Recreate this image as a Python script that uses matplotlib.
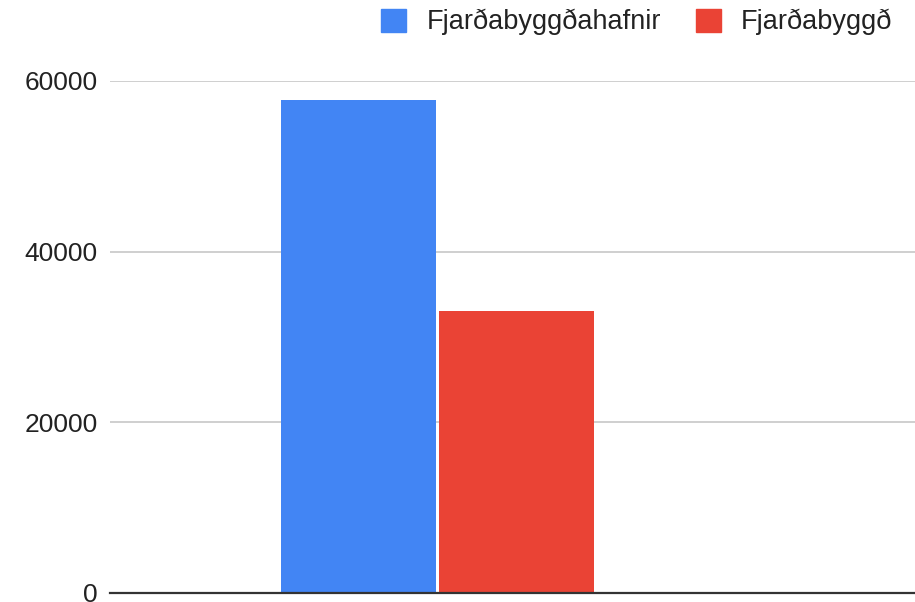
import matplotlib
matplotlib.use("Agg")
import matplotlib.pyplot as plt
import matplotlib.patches as mpatches

plt.rcParams['font.family'] = ['Liberation Sans', 'DejaVu Sans']

series_names = ["Fjarðabyggðahafnir", "Fjarðabyggð"]
values = [57800, 33100]
colors = ["#4285F4", "#EA4335"]
y_ticks = [0, 20000, 40000, 60000]

W, H = 915, 602
fig = plt.figure(figsize=(W / 100, H / 100), dpi=100)
# axes box in pixels: left 110, right 915, top 81, bottom 593
ax = fig.add_axes([110 / W, (H - 593) / H, (915 - 110) / W, (593 - 81) / H])

bar_w = 0.398
offsets = [-0.203, 0.203]
for name, val, col, off in zip(series_names, values, colors, offsets):
    ax.bar(off, val, width=bar_w, color=col, zorder=3, label=name)

ax.set_xlim(-0.842, 1.228)
ax.set_ylim(0, 60000)
ax.set_yticks(y_ticks)
ax.set_yticklabels([str(t) for t in y_ticks])
ax.set_xticks([])
ax.grid(axis='y', color='#cccccc', linewidth=1.3, zorder=0)
ax.tick_params(axis='y', length=0, pad=9, labelsize=19, labelcolor='#222222')

for s in ['top', 'right', 'left']:
    ax.spines[s].set_visible(False)
ax.spines['bottom'].set_color('#333333')
ax.spines['bottom'].set_linewidth(1.6)
ax.spines['bottom'].set_zorder(4)

handles = [mpatches.Patch(color=c, label=n) for n, c in zip(series_names, colors)]
fig.legend(handles=handles, loc='center right', bbox_to_anchor=(903 / W, 1 - 22 / H),
           ncol=2, frameon=False, fontsize=19.5, handlelength=0.93, handleheight=0.93,
           handletextpad=0.74, columnspacing=1.28, borderaxespad=0,
           labelcolor='#222222')

fig.savefig("out.png", dpi=100)
